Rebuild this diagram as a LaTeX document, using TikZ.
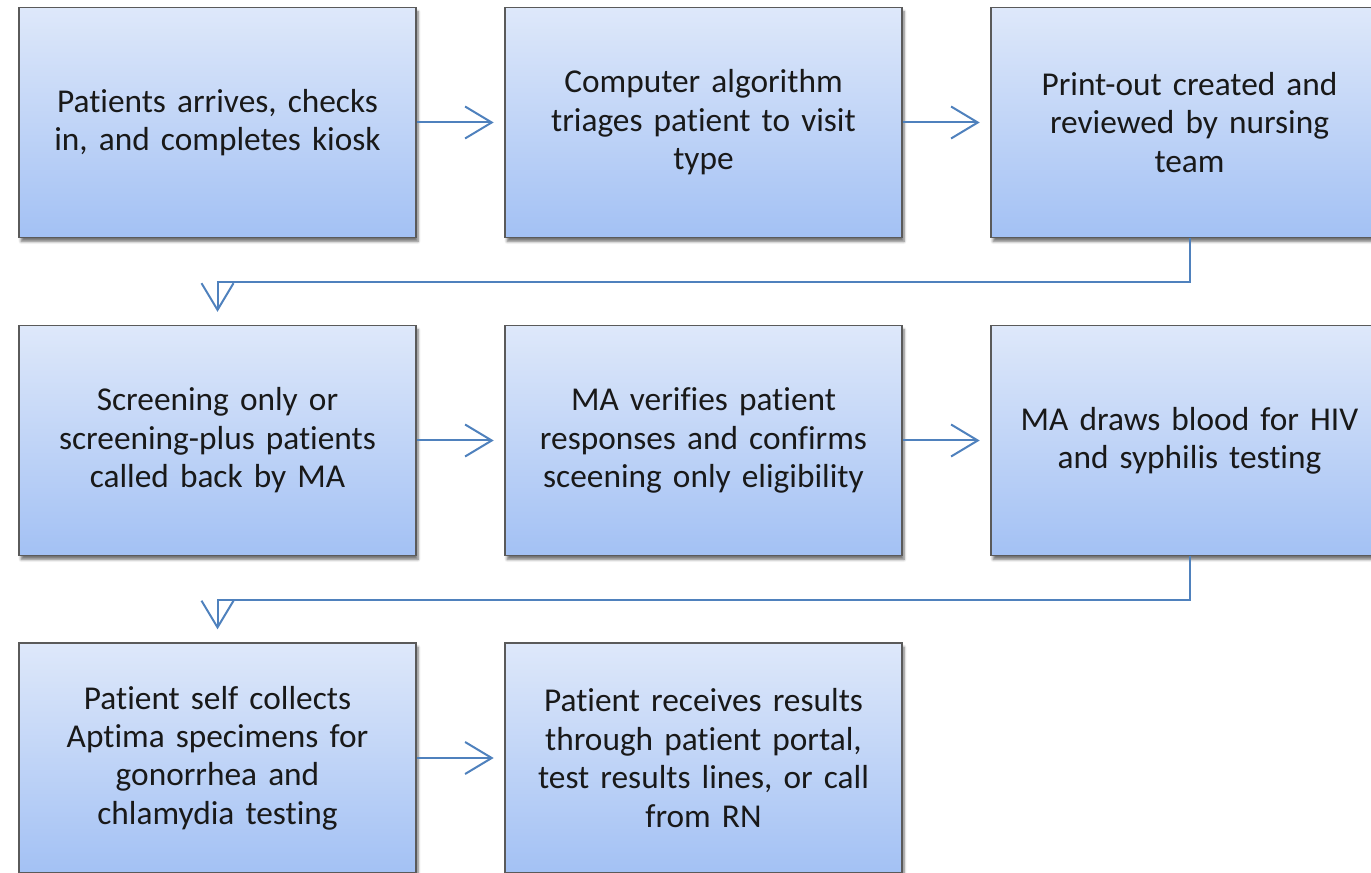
\documentclass[tikz,border=0pt]{standalone}
\usepackage{fontspec}
\setmainfont{Carlito}[Ligatures=NoCommon]
\usetikzlibrary{arrows.meta,shadows.blur}
\definecolor{boxtop}{RGB}{222,232,250}
\definecolor{boxbottom}{RGB}{163,193,244}
\definecolor{boxline}{RGB}{90,90,90}
\definecolor{flowblue}{RGB}{79,129,189}

\begin{document}
\begin{tikzpicture}[x=0.75pt,y=0.75pt,yscale=-1,
  stepbox/.style={draw=boxline,line width=1pt,top color=boxtop,bottom color=boxbottom,
    minimum width=297.75pt,minimum height=172.5pt,text width=284pt,align=center,
    font=\fontsize{25}{28.8}\selectfont,text=black!90,
    blur shadow={shadow xshift=1.5pt,shadow yshift=-3pt,shadow blur steps=6,shadow opacity=55}},
  flow/.style={draw=flowblue,line width=1.5pt,-{Straight Barb[length=20pt,width=24pt,line width=1.5pt]},shorten >=8pt}]
\useasboundingbox (0,0) rectangle (1371,873);

% First row
\node[stepbox] (arrive) at (217.5,122.5) {Patients arrives, checks\\in, and completes kiosk};
\node[stepbox] (triage) at (703.5,122.5) {Computer algorithm\\triages patient to visit\\type};
\node[stepbox] (print) at (1189.5,122.5) {Print-out created and\\reviewed by nursing\\team};
% Second row
\node[stepbox] (screen) at (217.5,440.5) {Screening only or\\screening-plus patients\\called back by MA};
\node[stepbox] (verify) at (703.5,440.5) {MA verifies patient\\responses and confirms\\sceening only eligibility};
\node[stepbox] (blood) at (1189.5,440.5) {MA draws blood for HIV\\and syphilis testing};
% Third row
\node[stepbox] (collect) at (217.5,758) {Patient self collects\\Aptima specimens for\\gonorrhea and\\chlamydia testing};
\node[stepbox] (results) at (703.5,758) {Patient receives results\\through patient portal,\\test results lines, or call\\from RN};

% Straight Lines
\draw[flow] (arrive) -- (triage);
\draw[flow] (triage) -- (print);
\draw[flow] (screen) -- (verify);
\draw[flow] (verify) -- (blood);
\draw[flow] (collect) -- (results);
% Elbow Lines
\draw[flow,shorten >=9.75pt] (print.south) -- ++(0,44) -| (screen.north);
\draw[flow,shorten >=9.75pt] (blood.south) -- ++(0,44) -| (collect.north);

\end{tikzpicture}
\end{document}
